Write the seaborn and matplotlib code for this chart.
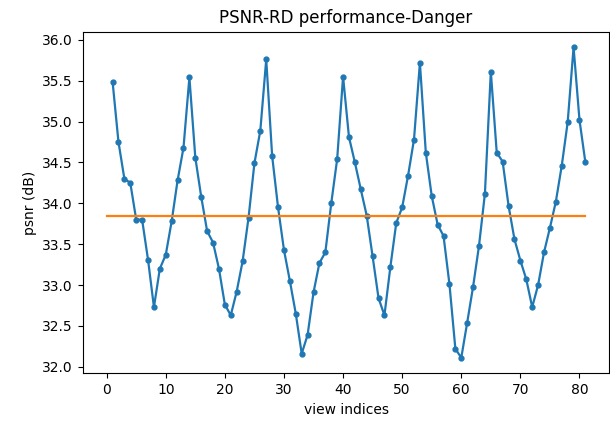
import matplotlib

matplotlib.use("Agg")
import matplotlib.pyplot as plt
import numpy as np
import seaborn as sns

# psnr per view
views = np.arange(1, 82)
psnr = [
    35.49, 34.75, 34.30, 34.25, 33.80, 33.80, 33.31, 32.73, 33.20, 33.37,
    33.78, 34.28, 34.68, 35.54, 34.56, 34.08, 33.66, 33.52, 33.20, 32.76,
    32.63, 32.92, 33.29, 33.82, 34.49, 34.89, 35.76, 34.58, 33.95, 33.43,
    33.05, 32.65, 32.16, 32.39, 32.91, 33.27, 33.40, 34.00, 34.54, 35.55,
    34.81, 34.50, 34.17, 33.85, 33.35, 32.84, 32.63, 33.22, 33.76, 33.95,
    34.34, 34.78, 35.72, 34.62, 34.09, 33.74, 33.60, 33.01, 32.22, 32.11,
    32.54, 32.98, 33.48, 34.12, 35.61, 34.62, 34.51, 33.97, 33.56, 33.30,
    33.07, 32.73, 33.00, 33.40, 33.70, 34.02, 34.46, 34.99, 35.91, 35.02,
    34.50,
]
avg_x = [0, 81]
avg_psnr = [33.85, 33.85]

fig = plt.figure(figsize=(6.1, 4.23), dpi=100)
fig.subplots_adjust(left=0.1356, right=0.9989, bottom=0.1175, top=0.9251)
ax = fig.gca()

sns.lineplot(x=views, y=psnr, marker=".", color="tab:blue", markersize=7,
             markeredgecolor="tab:blue", markeredgewidth=1, linewidth=1.6, ax=ax)
sns.lineplot(x=avg_x, y=avg_psnr, color="tab:orange", linewidth=1.6, ax=ax)

ax.set_title("PSNR-RD performance-Danger")
ax.set_xlabel("view indices")
ax.set_ylabel("psnr (dB)")
ax.set_xticks(np.arange(0, 81, 10))
ax.set_yticks(np.arange(32.0, 36.01, 0.5))

plt.savefig("out.png", dpi=100)
